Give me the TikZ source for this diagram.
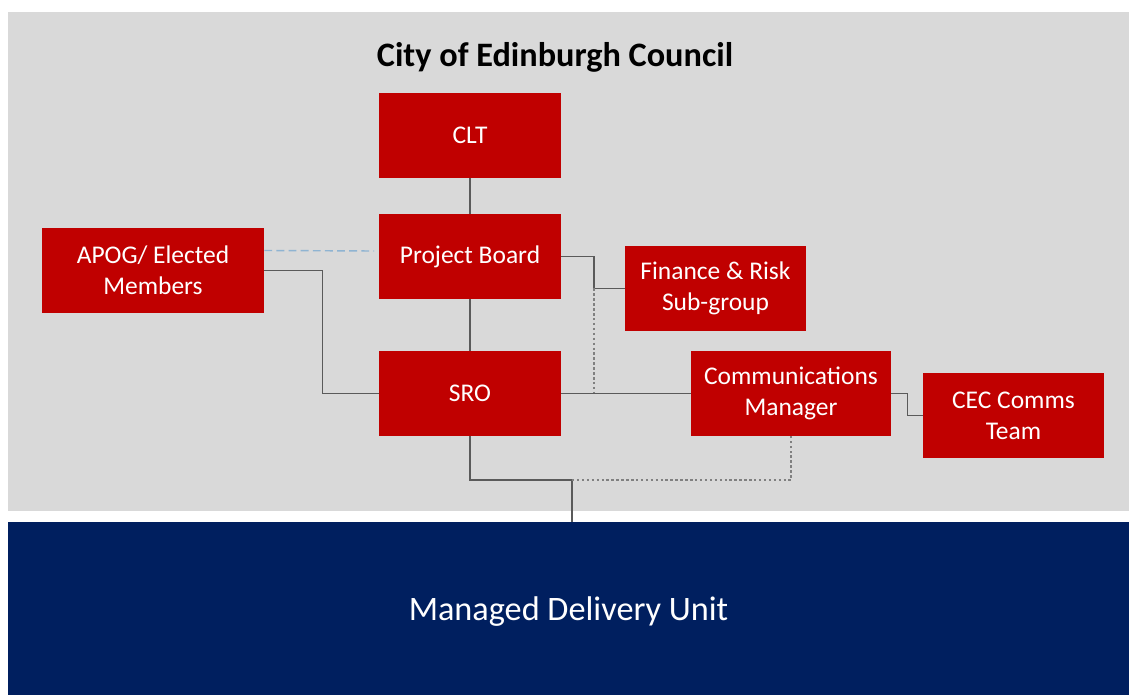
\documentclass[tikz,border=0pt]{standalone}
\usepackage{fontspec}
\setmainfont{Carlito}
\usepackage{xcolor}
\usepackage{tikz}
\usetikzlibrary{calc}

\definecolor{boxred}{HTML}{C00000}
\definecolor{unitblue}{HTML}{001F5F}
\definecolor{panelgray}{HTML}{D9D9D9}
\definecolor{linkgray}{HTML}{5A5A5A}
\definecolor{dotgray}{HTML}{808080}
\definecolor{dashblue}{RGB}{143,180,210}

\tikzset{
	orgbox/.style={rectangle, fill=boxred, text=white, align=center,
		minimum width=3.64cm, minimum height=1.7cm, inner sep=2pt,
		font=\fontsize{14.5}{17.6}\selectfont},
	link/.style={draw=linkgray, line width=0.6pt},
	dots/.style={draw=dotgray, line width=0.6pt, dash pattern=on 1.4pt off 1.4pt},
	advise/.style={draw=dashblue, line width=0.8pt, dash pattern=on 4.5pt off 2.4pt}
}

\begin{document}
\begin{tikzpicture}[x=0.02cm,y=-0.02cm]
		\useasboundingbox (0,0) rectangle (1129,695);
		\fill[white] (0,0) rectangle (1129,695);
		\fill[panelgray] (8,12) rectangle (1129,511);

		\node[font=\bfseries\fontsize{19.5}{23}\selectfont] (title) at (555,57) {City of Edinburgh Council};

		\node[orgbox] (clt) at (470,135.5) {CLT};
		\node[orgbox] (pb) at (470,256.5) {Project Board};
		\node[orgbox] (sro) at (470,393.5) {SRO};
		\node[orgbox, minimum width=4.44cm] (apog) at (153,270.5) {APOG/ Elected\\Members};
		\node[orgbox, minimum width=3.62cm] (fin) at (715.5,288.5) {Finance \& Risk\\Sub-group};
		\node[orgbox, minimum width=4cm] (comms) at (791,393.5) {Communications\\Manager};
		\node[orgbox, minimum width=3.62cm] (cec) at (1013.5,415.5) {CEC Comms\\Team};

		\node[rectangle, fill=unitblue, text=white, minimum width=22.42cm, minimum height=3.6cm,
			font=\fontsize{19.5}{23}\selectfont] (mdu) at (568.5,612) {Managed Delivery Unit};

		\coordinate (dashend) at (374,251);
		\coordinate (fsplit) at (594,288.5);
		\coordinate (junc) at (572,480);

		\draw[link] (clt) -- (pb);
		\draw[link] (pb) -- (sro);
		\draw[advise] ([yshift=0.4cm]apog.east) -- (dashend);
		\draw[link] (apog.east) -- ++(58,0) |- (sro.west);
		\draw[link] (pb.east) -| (fsplit) -- (fin.west);
		\draw[dots] (fsplit) -- (fsplit |- sro.east);
		\draw[link] (sro.east) -- (comms.west);
		\draw[link] (comms.east) -- ++(16,0) |- (cec.west);
		\draw[link] (sro.south) |- (junc) -- (junc |- mdu.north);
		\draw[dots] (junc) -| (comms.south);
	\end{tikzpicture}
\end{document}
